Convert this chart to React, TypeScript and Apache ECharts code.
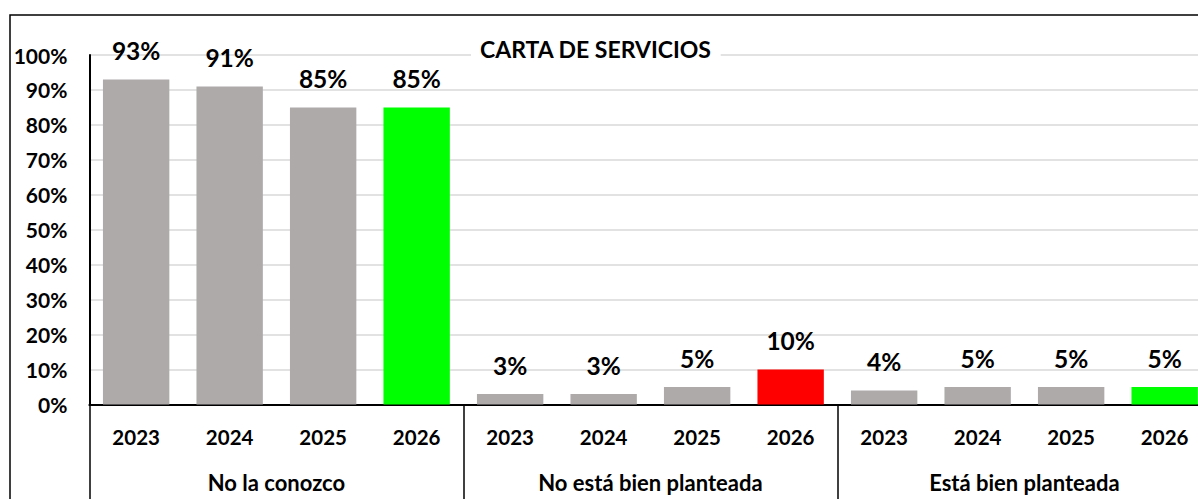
import React, { useEffect, useRef } from "react";
import * as echarts from "echarts";

const chartTitle = "CARTA DE SERVICIOS";
const years = ["2023", "2024", "2025", "2026", "2023", "2024", "2025", "2026", "2023", "2024", "2025", "2026"];
const groups = ["No la conozco", "No está bien planteada", "Está bien planteada"];
const values = [93, 91, 85, 85, 3, 3, 5, 10, 4, 5, 5, 5];
const barColors = ["#AEAAAA", "#AEAAAA", "#AEAAAA", "#00FF00", "#AEAAAA", "#AEAAAA", "#AEAAAA", "#FF0000", "#AEAAAA", "#AEAAAA", "#AEAAAA", "#00FF00"];
const yMin = 0;
const yMax = 100;
const yStep = 10;

const FONT = 'Lato, "Open Sans", sans-serif';

export default function App() {
  const ref = useRef<HTMLDivElement>(null);
  useEffect(() => {
    if (!ref.current) return;
    const chart = echarts.init(ref.current, undefined, { renderer: "svg" });
    chart.setOption({
      animation: false,
      backgroundColor: "#fff",
      title: {
        text: chartTitle,
        left: 471,
        top: 33,
        padding: [4, 9, 4, 9],
        backgroundColor: "#fff",
        textStyle: { fontFamily: FONT, fontWeight: "bold", fontSize: 23, color: "#000", lineHeight: 23 },
      },
      graphic: [
        {
          type: "rect",
          silent: true,
          z: 100,
          shape: { x: 10, y: 15, width: 1400, height: 800 },
          style: { fill: "none", stroke: "#000", lineWidth: 1.5 },
        },
      ],
      grid: { left: 89.4, right: 28.6, top: 55, bottom: 135.6, containLabel: false },
      xAxis: [
        {
          type: "category",
          data: years,
          position: "bottom",
          axisLine: { show: true, lineStyle: { color: "#000", width: 2 } },
          axisTick: { show: false },
          axisLabel: { margin: 22, fontFamily: FONT, fontWeight: "bold", fontSize: 20.5, color: "#000", interval: 0 },
          splitLine: { show: false },
        },
        {
          type: "category",
          data: groups,
          position: "bottom",
          axisLine: { show: false },
          axisTick: { show: true, length: 150, interval: 0, lineStyle: { color: "#000", width: 1.5 } },
          axisLabel: { margin: 67, fontFamily: FONT, fontWeight: "bold", fontSize: 22, color: "#000", interval: 0 },
          splitLine: { show: false },
        },
      ],
      yAxis: {
        type: "value",
        min: yMin,
        max: yMax,
        interval: yStep,
        axisLine: { show: true, lineStyle: { color: "#000", width: 2 } },
        axisTick: { show: false },
        axisLabel: { margin: 22, formatter: "{value}%", fontFamily: FONT, fontWeight: "bold", fontSize: 21, color: "#000" },
        splitLine: { show: true, lineStyle: { color: "#D9D9D9", width: 1.5 } },
      },
      series: [
        {
          type: "bar",
          xAxisIndex: 0,
          barWidth: "71%",
          data: values.map((v, i) => ({ value: v, itemStyle: { color: barColors[i] } })),
          label: {
            show: true,
            position: "top",
            distance: 16,
            formatter: "{c}%",
            fontFamily: FONT,
            fontWeight: "bold",
            fontSize: 24.5,
            color: "#000",
          },
        },
      ],
    });
    return () => chart.dispose();
  }, []);
  return (
    <div style={{ position: "fixed", left: 0, top: 0, width: 1198, height: 499, overflow: "hidden", background: "#fff" }}>
      <div ref={ref} style={{ width: 1240, height: 540 }} />
    </div>
  );
}
